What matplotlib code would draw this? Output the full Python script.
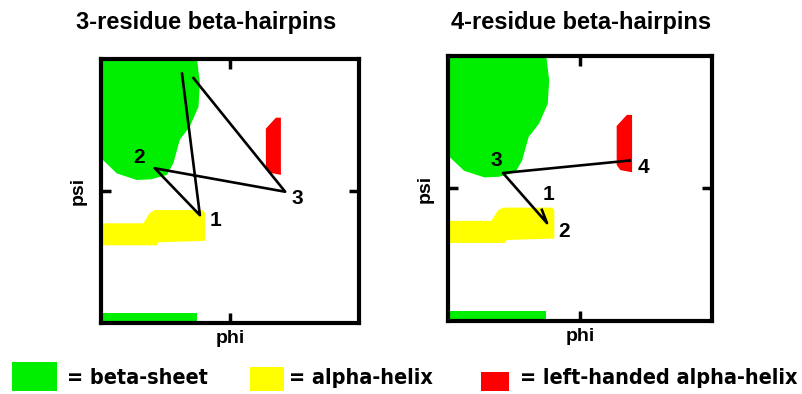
import matplotlib
matplotlib.use('Agg')
import matplotlib.pyplot as plt
from matplotlib.patches import Polygon, Rectangle

# Ramachandran regions (phi, psi in degrees)
beta_region = [(-180, 180), (-46, 180), (-42, 147), (-44, 115), (-56, 88), (-70, 70),
               (-79, 38), (-88, 22), (-110, 16), (-130, 15), (-158, 24), (-177, 42), (-180, 42)]
beta_strip = [(-180, -180), (-46, -180), (-46, -167), (-180, -167)]
alpha_region = [(-180, -44), (-121, -44), (-112, -30), (-105, -26), (-38, -26), (-35, -30),
                (-35, -68), (-100, -70), (-102, -74), (-180, -74)]
left_alpha_region = [(50, 85), (64, 100), (71, 100), (71, 22), (55, 25), (50, 32)]

# 3-residue hairpin: flanking strand residue -> 1 -> 2 -> 3 -> flanking strand residue
hp3_phi = [-67, -42, -105, 77, -51]
hp3_psi = [160, -33, 31, -1, 154]
hp3_labels = ['1', '2', '3']
hp3_offsets = [(11, -4), (-11, 8), (9, -5)]

# 4-residue hairpin: 1 -> 2 -> 3 -> 4
hp4_phi = [-52, -45, -105, 68]
hp4_psi = [-29, -47, 21, 38]
hp4_labels = ['1', '2', '3', '4']
hp4_offsets = [(5, 11), (12, -6), (-5, 9), (10, -5)]

titles = ['3-residue beta-hairpins', '4-residue beta-hairpins']
legend_labels = ['= beta-sheet', '= alpha-helix', '= left-handed alpha-helix']
GREEN, YELLOW, RED = '#00ee00', '#ffff00', '#ff0000'

plt.rcParams['font.family'] = ['Liberation Sans', 'DejaVu Sans']

fig = plt.figure(figsize=(8.03, 3.94), dpi=100)
ax_left = fig.add_axes([0.1258, 0.1802, 0.3213, 0.670])
ax_right = fig.add_axes([0.5579, 0.1853, 0.3288, 0.6726])


def draw_panel(ax, phi, psi, labels, offsets, label_start):
    for poly, color in [(beta_region, GREEN), (beta_strip, GREEN),
                        (alpha_region, YELLOW), (left_alpha_region, RED)]:
        ax.add_patch(Polygon(poly, closed=True, facecolor=color, edgecolor='none', zorder=1))
    ax.plot(phi, psi, color='black', lw=1.9, zorder=3)
    for i, lab in enumerate(labels):
        j = label_start + i
        ax.annotate(lab, (phi[j], psi[j]), xytext=offsets[i], textcoords='offset points',
                    ha='center', va='center', fontsize=15, fontweight='bold', zorder=4)
    ax.set_xlim(-180, 180)
    ax.set_ylim(-180, 180)
    ax.set_xticks([0])
    ax.set_yticks([0])
    ax.tick_params(direction='in', length=7, width=2.5, top=True, right=True,
                   labelbottom=False, labelleft=False)
    for sp in ax.spines.values():
        sp.set_linewidth(3)
    ax.set_xlabel('phi', fontsize=14, fontweight='bold', labelpad=5)
    ax.set_ylabel('psi', fontsize=14, fontweight='bold', labelpad=10)


draw_panel(ax_left, hp3_phi, hp3_psi, hp3_labels, hp3_offsets, 1)
draw_panel(ax_right, hp4_phi, hp4_psi, hp4_labels, hp4_offsets, 0)

fig.text(206 / 803, 1 - 22 / 394, titles[0], ha='center', va='center',
         fontsize=17, fontweight='bold')
fig.text(581 / 803, 1 - 22 / 394, titles[1], ha='center', va='center',
         fontsize=17, fontweight='bold')

# Legend along the bottom
legend_items = [(GREEN, 12, 362, 45, 29, 67),
                (YELLOW, 250, 367, 34, 24, 289),
                (RED, 481, 372, 28, 19, 520)]
for (color, x, y, w, h, tx), lab in zip(legend_items, legend_labels):
    fig.patches.append(Rectangle((x / 803, 1 - (y + h) / 394), w / 803, h / 394,
                                 transform=fig.transFigure, facecolor=color,
                                 edgecolor='none'))
    fig.text(tx / 803, 1 - 378 / 394, lab, ha='left', va='center', fontsize=15.5,
             fontweight='bold', fontstretch='condensed', family='DejaVu Sans')

fig.savefig('out.png', dpi=100)
